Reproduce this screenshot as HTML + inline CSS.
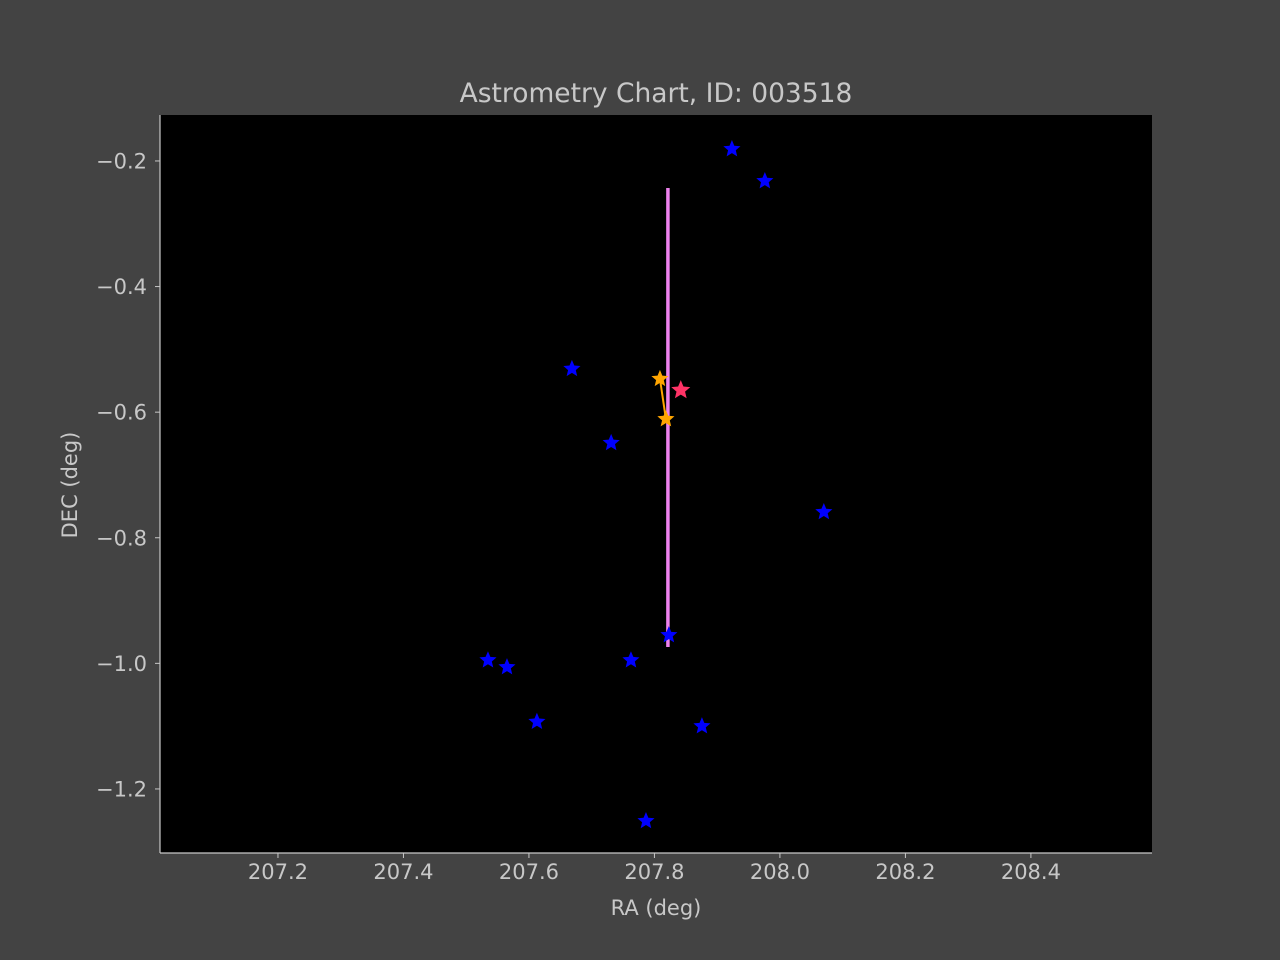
<!DOCTYPE html>
<html><head><meta charset="utf-8"><style>
html,body{margin:0;padding:0;background:#434343;}
svg{display:block;font-family:"DejaVu Sans","Liberation Sans",sans-serif;}
</style></head><body>
<svg id="chart" width="1280" height="960">
<rect width="1280" height="960" fill="#434343"/>
<text x="656" y="102" fill="#c8c8c8" font-size="26.5" text-anchor="middle">Astrometry Chart, ID: 003518</text>
<rect x="160" y="115" width="992" height="738" fill="#000"/>
<g id="axes"></g>
<g id="marks"></g>
<text x="656" y="915" fill="#c8c8c8" font-size="21" text-anchor="middle">RA (deg)</text>
<text transform="translate(77,485) rotate(-90)" fill="#c8c8c8" font-size="21" text-anchor="middle">DEC (deg)</text>
</svg>
<script>
const xTicks=[207.2,207.4,207.6,207.8,208.0,208.2,208.4];
const yTicks=[-0.2,-0.4,-0.6,-0.8,-1.0,-1.2];
const blueRA=[207.9235,207.976,207.6685,207.731,208.070,207.823,207.5347,207.565,207.7626,207.6127,207.8757,207.7865];
const blueDEC=[-0.181,-0.232,-0.531,-0.649,-0.759,-0.955,-0.995,-1.006,-0.995,-1.093,-1.100,-1.251];
const orangeRA=[207.8088,207.8183];
const orangeDEC=[-0.547,-0.611];
const redRA=[207.842];
const redDEC=[-0.565];
const pinkRA=[207.8215,207.8215];
const pinkDEC=[-0.243,-0.974];
const xMin=207.012,xMax=208.593,yMin=-1.302,yMax=-0.1268;
const L=160,R=1152,T=115,B=853;
const sx=v=>L+(v-xMin)/(xMax-xMin)*(R-L);
const sy=v=>B-(v-yMin)/(yMax-yMin)*(B-T);
const NS='http://www.w3.org/2000/svg';
const axes=document.getElementById('axes'),marks=document.getElementById('marks');
function mk(tag,attrs,parent){const e=document.createElementNS(NS,tag);for(const k in attrs)e.setAttribute(k,attrs[k]);parent.appendChild(e);return e;}
let e=mk('line',{x1:L,y1:B,x2:R,y2:B,stroke:'#c8c8c8','stroke-width':1.2},axes);


e=mk('line',{x1:L,y1:T,x2:L,y2:B,stroke:'#c8c8c8','stroke-width':1.2},axes);


xTicks.forEach(v=>{const x=sx(v);
 let t=mk('line',{x1:x,y1:B,x2:x,y2:B+5,stroke:'#c8c8c8','stroke-width':1},axes);
 
 
 let l=mk('text',{x:x,y:B+26,fill:'#c8c8c8','font-size':21,'text-anchor':'middle'},axes);
 l.textContent=v.toFixed(1);
 
 });
yTicks.forEach(v=>{const y=sy(v);
 let t=mk('line',{x1:L-5,y1:y,x2:L,y2:y,stroke:'#c8c8c8','stroke-width':1},axes);
 
 
 let l=mk('text',{x:L-13,y:y+7.5,fill:'#c8c8c8','font-size':21,'text-anchor':'end'},axes);
 l.textContent='\u2212'+Math.abs(v).toFixed(1);
 
 });
function star(cx,cy,r,fill){let p=[];for(let i=0;i<10;i++){const a=-Math.PI/2+i*Math.PI/5;const rr=i%2?r*0.45:r;p.push((cx+rr*Math.cos(a)).toFixed(2)+','+(cy+rr*Math.sin(a)).toFixed(2));}
 return mk('polygon',{points:p.join(' '),fill:fill},marks);}
let pl=mk('line',{x1:sx(pinkRA[0]),y1:sy(pinkDEC[0]),x2:sx(pinkRA[1]),y2:sy(pinkDEC[1]),stroke:'#ee82ee','stroke-width':3.5},marks);


let ol=mk('line',{x1:sx(orangeRA[0]),y1:sy(orangeDEC[0]),x2:sx(orangeRA[1]),y2:sy(orangeDEC[1]),stroke:'#ffa500','stroke-width':2},marks);


blueRA.forEach((v,i)=>{const s=star(sx(v),sy(blueDEC[i]),9,'#0000ff');
 
 });
orangeRA.forEach((v,i)=>{const s=star(sx(v),sy(orangeDEC[i]),9,'#ffa500');
 
 });
redRA.forEach((v,i)=>{const s=star(sx(v),sy(redDEC[i]),10,'#ff3366');
 
 });
</script>
</body></html>
